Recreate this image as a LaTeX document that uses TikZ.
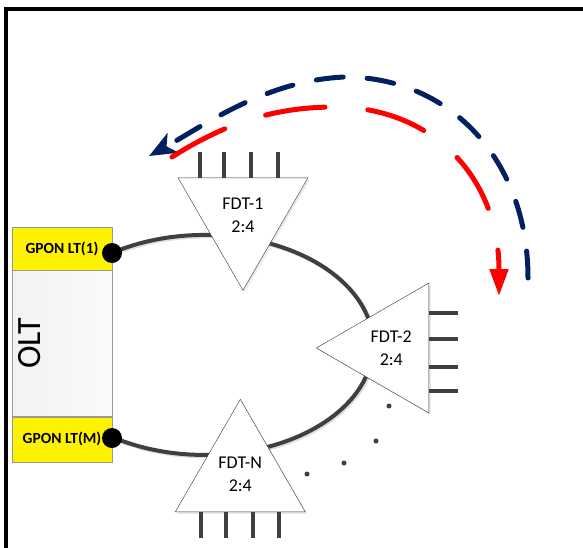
\documentclass[tikz,border=0pt]{standalone}
\usepackage{fontspec}
\setmainfont{Carlito}
\usetikzlibrary{arrows.meta,shapes.geometric,shadows,calc,backgrounds}
\definecolor{navy}{HTML}{002060}
\definecolor{ringgray}{HTML}{3F3F3F}
\tikzset{
    ltbox/.style={draw=gray!80, fill=yellow, minimum width=100pt, inner sep=0pt, font=\fontsize{15.5}{17}\selectfont\bfseries},
    fdt/.style={regular polygon, regular polygon sides=3, draw=black!80, fill=white, minimum size=150pt, inner sep=0pt,
        align=center, font=\fontsize{18}{23}\selectfont, drop shadow={shadow xshift=2pt, shadow yshift=-2pt, opacity=0.15}},
    stub/.style={draw=ringgray, line width=4pt},
    port/.style={circle, fill=black, minimum size=20pt, inner sep=0pt},
    flow/.style={line width=5pt, line cap=round}
}
\begin{document}
\begin{tikzpicture}[x=1pt, y=-1pt]
        \useasboundingbox (0,0) rectangle (583,547);
        \clip (0,0) rectangle (583,547);
        \draw[line width=4pt] (6,560) -- (6,9) -- (600,9);

        % OLT with its two line cards
        \node[ltbox, minimum height=43pt] (lt1) at (62,248.5) {GPON LT(1)};
        \node[draw=gray!80, left color=gray!10, right color=gray!4, minimum width=100pt, minimum height=146pt, anchor=north] (olt) at (lt1.south) {};
        \node[ltbox, minimum height=45pt, anchor=north] (ltm) at (olt.south) {GPON LT(M)};
        \node[rotate=90, font=\fontsize{34}{34}\selectfont] at ([xshift=18pt]olt.west) {OLT};

        \node[port] (p1) at (112,253) {};
        \node[port] (p2) at (112,438) {};

        % splitters
        \node[fdt, shape border rotate=180] (fdt1) at (243,215.3) {FDT-1\\2:4};
        \node[fdt, shape border rotate=90] (fdt2) at (391.3,348) {FDT-2\\2:4};
        \node[fdt] (fdtn) at (240.3,474.3) {FDT-N\\2:4};

        \foreach \dx in {-43,-19,8,35}
            \draw[stub] ($(fdt1.center)+(\dx,-37.5)$) -- ++(0,-26);
        \foreach \dy in {-35,-9,19,43}
            \draw[stub] ($(fdt2.center)+(37.5,\dy)$) -- ++(29,0);
        \foreach \dx in {-39,-14,13,39}
            \draw[stub] ($(fdtn.center)+(\dx,37.5)$) -- ++(0,26);

        \foreach \pt in {(389,406),(376,441),(344,463),(307,474)}
            \fill[ringgray] \pt circle[radius=2.5];

        % fibre ring
        \begin{scope}[on background layer]
            \draw[gray!25, line width=4pt] ([shift={(1.5,1.5)}]p1.center) arc[start angle=-123.3, end angle=123.3, x radius=168.6, y radius=110];
            \draw[ringgray, line width=4pt] (p1.center) arc[start angle=-123.3, end angle=123.3, x radius=168.6, y radius=110];
        \end{scope}

        % protection switching
        \coordinate (bstart) at (528,278);
        \coordinate (bend) at (149,156);
        \coordinate (rstart) at (172,157);
        \coordinate (rend) at (499,296);
        \draw[flow, navy, dash pattern=on 27pt off 24pt, -{Stealth[length=27pt, width=22pt, inset=7pt]}]
            (bstart) .. controls (528,160) and (450,77) .. (345,77) .. controls (265,80) and (200,128) .. (bend);
        \draw[flow, red, dash pattern=on 60pt off 43pt, -{Triangle[length=27pt, width=18pt]}]
            (rstart) .. controls (230,120) and (280,107) .. (335,107) .. controls (430,107) and (499,175) .. (rend);
    \end{tikzpicture}
\end{document}
